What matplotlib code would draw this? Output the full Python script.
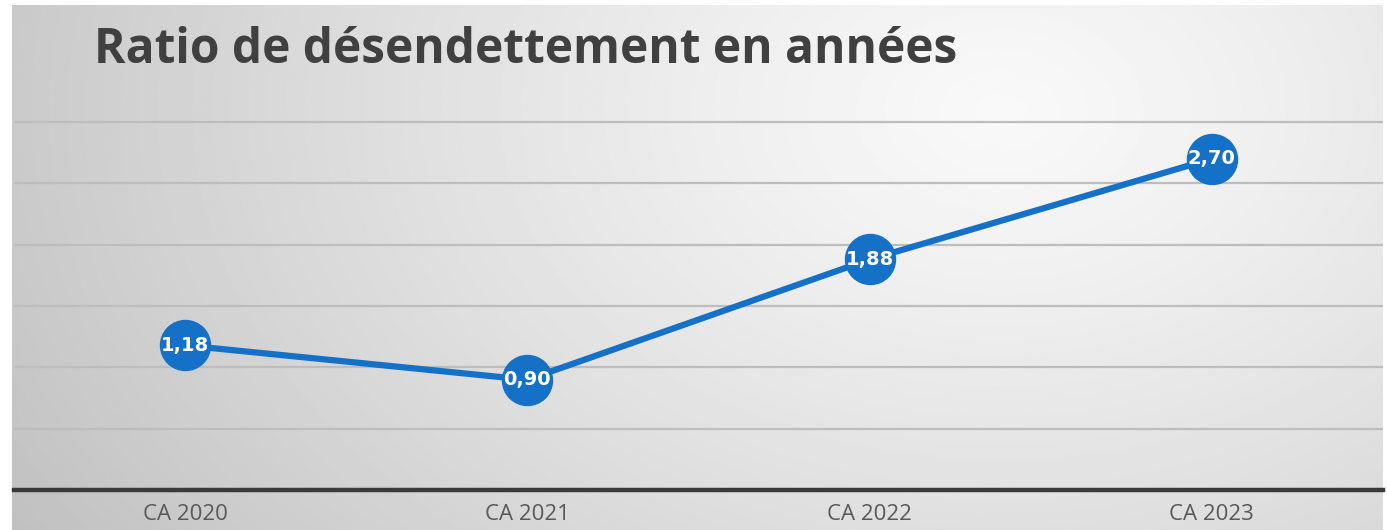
import numpy as np
import matplotlib.pyplot as plt

categories = ["CA 2020", "CA 2021", "CA 2022", "CA 2023"]
ratios = [1.18, 0.90, 1.88, 2.70]
labels = ["1,18", "0,90", "1,88", "2,70"]
gridlines = [0.5, 1.0, 1.5, 2.0, 2.5, 3.0]

fig = plt.figure(figsize=(13.87, 5.30), dpi=100)
fig.patch.set_facecolor("white")

# radial gradient background panel
bg = fig.add_axes([0.009, 0.0, 0.988, 0.99])
h, w = 260, 700
yy, xx = np.mgrid[0:h, 0:w]
cx, cy = 0.72 * w, 0.2 * h
d = np.sqrt(((xx - cx) / w) ** 2 + ((yy - cy) / h * 0.55) ** 2)
shade = 0.975 - 0.27 * np.clip(d, 0, 1) ** 1.2
bg.imshow(shade, cmap="gray", vmin=0, vmax=1, aspect="auto", interpolation="bilinear")
bg.axis("off")

ax = fig.add_axes([0.0101, 0.075, 0.987, 0.915])
ax.patch.set_alpha(0)
x = np.arange(len(categories))
ax.set_xlim(-0.5, len(categories) - 0.5)
ax.set_ylim(0, 3.95)

for g in gridlines:
    ax.axhline(g, color="#bdbdbd", lw=1.6, zorder=1)
ax.axhline(0, color="#3a3a3a", lw=3.2, zorder=2, clip_on=False)

ax.plot(x, ratios, color="#1570c8", lw=4.5, zorder=3,
        marker="o", markersize=36, markerfacecolor="#1570c8", markeredgecolor="#1570c8")
for xi, yi, lab in zip(x, ratios, labels):
    ax.text(xi, yi, lab, ha="center", va="center", color="white",
            fontsize=14, fontweight="bold", family="DejaVu Sans", zorder=4)

ax.set_xticks(x)
ax.set_xticklabels(categories, fontsize=16, color="#595959", family="Open Sans")
ax.tick_params(axis="x", length=0, pad=10)
ax.set_yticks([])
for s in ax.spines.values():
    s.set_visible(False)

fig.text(0.068, 0.905, "Ratio de désendettement en années", fontsize=34.5,
         fontweight="bold", color="#404040", family="Open Sans", va="center")

fig.savefig("out.png", dpi=100)
